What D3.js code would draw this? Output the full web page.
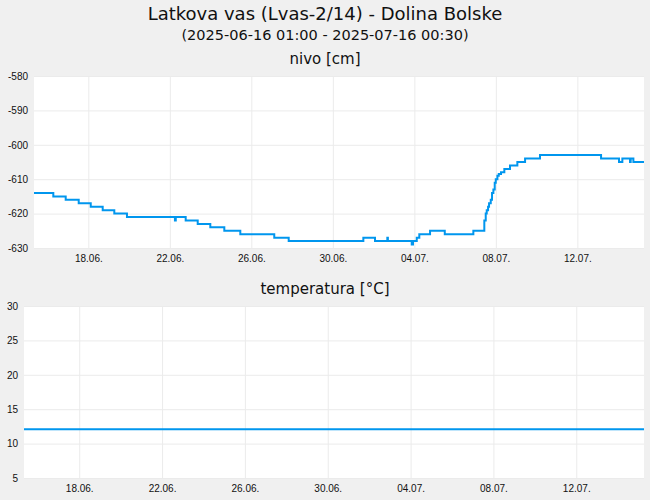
<!DOCTYPE html>
<html>
<head>
<meta charset="utf-8">
<script src="https://cdn.jsdelivr.net/npm/d3@7"></script>
<style>
  body { margin: 0; background: #f0f0f0; }
  svg { display: block; font-family: "DejaVu Sans", sans-serif; }
  .grid line { stroke: #ebebeb; stroke-width: 1; }
  .grid text { fill: #111; font-size: 10px; }
</style>
</head>
<body>
<svg id="chart" width="650" height="500"></svg>
<script>
// water level steps (time, cm)
var nivoTimes = [
  "2025-06-15 08:00", "2025-06-16 06:45", "2025-06-16 21:20", "2025-06-17 12:40",
  "2025-06-18 02:50", "2025-06-18 16:55", "2025-06-19 06:35", "2025-06-19 21:30",
  "2025-06-22 06:00", "2025-06-22 07:00", "2025-06-22 18:40", "2025-06-23 08:50",
  "2025-06-23 23:40", "2025-06-24 16:10", "2025-06-25 11:00", "2025-06-27 03:00",
  "2025-06-27 20:00", "2025-07-01 11:55", "2025-07-02 01:40", "2025-07-02 16:10",
  "2025-07-02 16:50", "2025-07-03 20:55", "2025-07-03 22:25", "2025-07-04 02:50",
  "2025-07-04 05:50", "2025-07-04 18:30", "2025-07-05 11:50", "2025-07-06 21:30",
  "2025-07-07 10:25", "2025-07-07 12:05", "2025-07-07 13:15", "2025-07-07 14:50",
  "2025-07-07 16:00", "2025-07-07 18:00", "2025-07-07 19:30", "2025-07-07 21:05",
  "2025-07-07 22:40", "2025-07-07 23:55", "2025-07-08 01:50", "2025-07-08 03:25",
  "2025-07-08 06:05", "2025-07-08 10:00", "2025-07-08 16:40", "2025-07-09 01:20",
  "2025-07-09 10:25", "2025-07-10 04:00", "2025-07-13 03:55", "2025-07-14 01:05",
  "2025-07-14 05:00", "2025-07-14 14:00", "2025-07-14 14:50", "2025-07-14 18:00",
  "2025-07-15 06:30"
];
var nivoValues = [
  -614, -615, -616, -617,
  -618, -619, -620, -621,
  -622, -621, -622, -623,
  -624, -625, -626, -627,
  -628, -627, -628, -627,
  -628, -629, -628, -627,
  -626, -625, -626, -625,
  -622, -620, -619, -618,
  -617, -616, -614, -613,
  -611, -610, -609, -608.5,
  -608, -607, -606, -605,
  -604, -603, -604, -605,
  -604, -605, -604, -605,
  -605
];

// temperature (°C)
var tempTimes = ["2025-06-15 08:00", "2025-07-15 06:30"];
var tempValues = [12.1, 12.1];

var xDomain = ["2025-06-15 08:00", "2025-07-15 06:30"];
var xTicks = ["2025-06-18 00:00", "2025-06-22 00:00", "2025-06-26 00:00", "2025-06-30 00:00",
              "2025-07-04 00:00", "2025-07-08 00:00", "2025-07-12 00:00"];
var nivoTicks = [-630, -620, -610, -600, -590, -580];
var tempTicks = [5, 10, 15, 20, 25, 30];

var parse = d3.timeParse("%Y-%m-%d %H:%M");
var svg = d3.select("#chart");
var lineColor = "#0096ee";

svg.append("text").attr("x", 325).attr("y", 20).attr("text-anchor", "middle")
   .style("font-size", "18px").attr("fill", "#111")
   .text("Latkova vas (Lvas-2/14) - Dolina Bolske");
svg.append("text").attr("x", 325).attr("y", 40).attr("text-anchor", "middle")
   .style("font-size", "14.5px").attr("fill", "#111")
   .text("(2025-06-16 01:00 - 2025-07-16 00:30)");

function panel(opts) {
  var w = opts.right - opts.left, h = opts.bottom - opts.top;
  var g = svg.append("g").attr("transform", "translate(" + [opts.left, opts.top] + ")");

  var x = d3.scaleTime().domain(xDomain.map(parse)).range([0, w]);
  var y = d3.scaleLinear().domain(opts.yDomain).range([h, 0]);

  svg.append("text").attr("x", 325).attr("y", opts.top - 12).attr("text-anchor", "middle")
     .style("font-size", "15px").attr("fill", "#111").text(opts.title);

  g.append("rect").attr("width", w).attr("height", h).attr("fill", "#fff");

  // plain hyphen for negatives, like the original
  g.append("g").attr("class", "grid")
   .call(d3.axisLeft(y).tickValues(opts.yTicks).tickSize(-w).tickPadding(6)
           .tickFormat(function(d) { return String(d); }))
   .call(function(a) { a.select(".domain").remove(); });

  g.append("g").attr("class", "grid").attr("transform", "translate(0," + h + ")")
   .call(d3.axisBottom(x).tickValues(xTicks.map(parse)).tickSize(-h).tickPadding(7)
           .tickFormat(d3.timeFormat("%d.%m.")))
   .call(function(a) { a.select(".domain").remove(); });

  var pts = opts.times.map(function(t, i) { return [parse(t), opts.values[i]]; });
  var line = d3.line().curve(d3.curveStepAfter)
               .x(function(d) { return x(d[0]); })
               .y(function(d) { return y(d[1]); });

  g.append("path").datum(pts)
   .attr("d", line)
   .attr("fill", "none")
   .attr("stroke", lineColor)
   .attr("stroke-width", 2);
}

panel({ left: 34, right: 644, top: 76, bottom: 248, yDomain: [-630, -580],
        yTicks: nivoTicks, title: "nivo [cm]", times: nivoTimes, values: nivoValues });
panel({ left: 24, right: 644, top: 306, bottom: 478, yDomain: [5, 30],
        yTicks: tempTicks, title: "temperatura [°C]", times: tempTimes, values: tempValues });
</script>
</body>
</html>
